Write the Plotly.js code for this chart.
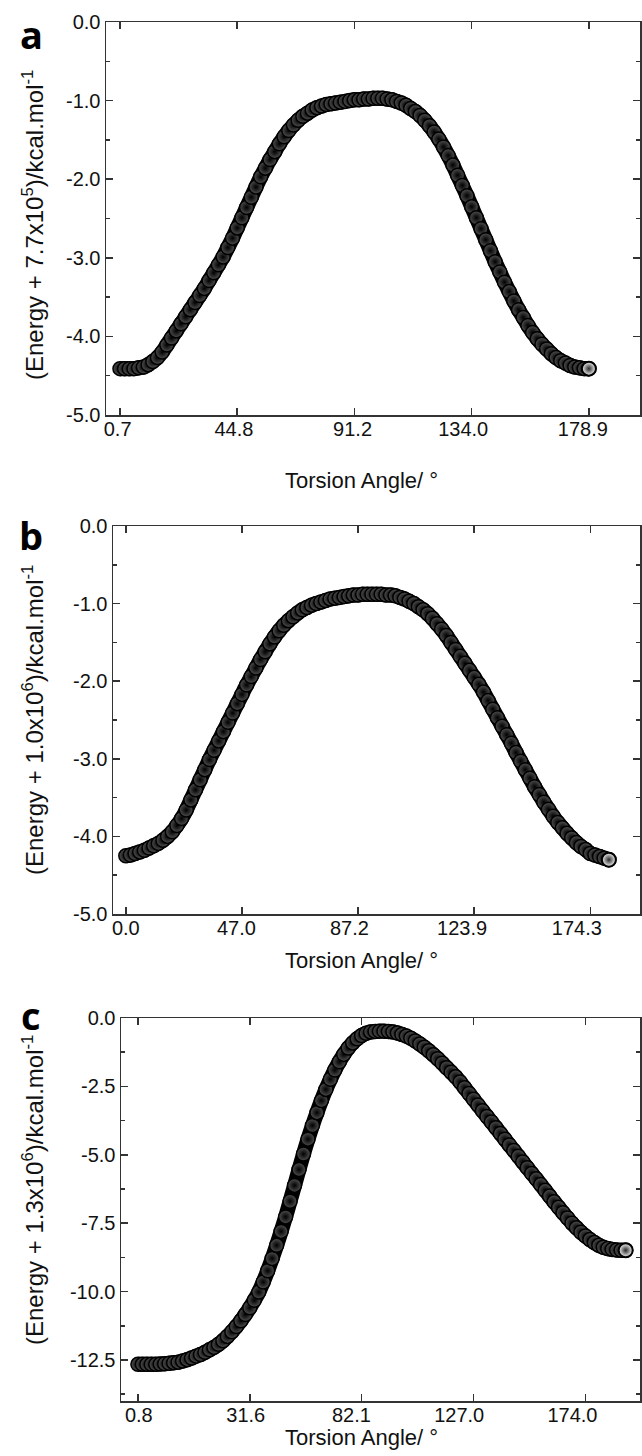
<!DOCTYPE html>
<html>
<head>
<meta charset="utf-8">
<script src="https://cdn.plot.ly/plotly-3.0.1.min.js"></script>
<style>
  html, body { margin: 0; padding: 0; background: #fff; }
  #chart { width: 642px; height: 1456px; }
</style>
</head>
<body>
<div id="chart"></div>
<script>
// ---- Data (energy along torsion scan steps; x = scan step index) ----
const energyA = [
  -4.41, -4.41, -4.41, -4.41, -4.40, -4.39, -4.36, -4.32, -4.27, -4.20,
  -4.11, -4.02, -3.93, -3.84, -3.75, -3.66, -3.57, -3.48, -3.39, -3.29,
  -3.19, -3.09, -2.99, -2.87, -2.75, -2.62, -2.49, -2.36, -2.23, -2.10,
  -1.97, -1.86, -1.75, -1.65, -1.55, -1.46, -1.38, -1.31, -1.25, -1.20,
  -1.16, -1.12, -1.09, -1.07, -1.05, -1.04, -1.03, -1.02, -1.01, -1.00,
  -0.99, -0.99, -0.98, -0.98, -0.97, -0.97, -0.97, -0.98, -0.99, -1.01,
  -1.03, -1.06, -1.10, -1.14, -1.19, -1.25, -1.32, -1.40, -1.49, -1.59,
  -1.70, -1.82, -1.95, -2.08, -2.21, -2.35, -2.49, -2.63, -2.77, -2.91,
  -3.05, -3.18, -3.31, -3.43, -3.55, -3.66, -3.76, -3.86, -3.95, -4.03,
  -4.10, -4.16, -4.22, -4.27, -4.31, -4.34, -4.37, -4.39, -4.40, -4.41,
  -4.41
];
const energyB = [
  -4.25, -4.24, -4.22, -4.20, -4.18, -4.15, -4.12, -4.09, -4.05, -4.00,
  -3.94, -3.86, -3.77, -3.66, -3.53, -3.40, -3.27, -3.14, -3.01, -2.89,
  -2.77, -2.65, -2.53, -2.41, -2.29, -2.17, -2.05, -1.94, -1.83, -1.72,
  -1.62, -1.52, -1.43, -1.35, -1.28, -1.22, -1.17, -1.12, -1.08, -1.05,
  -1.02, -1.00, -0.98, -0.96, -0.94, -0.93, -0.92, -0.91, -0.90, -0.89,
  -0.89, -0.88, -0.88, -0.88, -0.88, -0.88, -0.89, -0.89, -0.90, -0.92,
  -0.94, -0.97, -1.00, -1.04, -1.08, -1.13, -1.19, -1.26, -1.33, -1.41,
  -1.50, -1.59, -1.68, -1.77, -1.86, -1.95, -2.04, -2.14, -2.25, -2.36,
  -2.47, -2.58, -2.69, -2.80, -2.92, -3.03, -3.14, -3.25, -3.36, -3.46,
  -3.56, -3.65, -3.74, -3.82, -3.89, -3.96, -4.02, -4.08, -4.13, -4.17,
  -4.22, -4.24, -4.26, -4.28, -4.30
];
const energyC = [
  -12.66, -12.66, -12.66, -12.66, -12.66, -12.65, -12.64, -12.62, -12.60, -12.58,
  -12.54, -12.49, -12.43, -12.36, -12.30, -12.22, -12.13, -12.04, -11.93, -11.80,
  -11.64, -11.47, -11.28, -11.07, -10.84, -10.59, -10.32, -10.02, -9.65, -9.24,
  -8.79, -8.31, -7.80, -7.27, -6.70, -6.12, -5.54, -4.97, -4.43, -3.93,
  -3.46, -3.02, -2.61, -2.24, -1.90, -1.60, -1.33, -1.10, -0.91, -0.76,
  -0.64, -0.56, -0.51, -0.49, -0.48, -0.48, -0.49, -0.51, -0.55, -0.60,
  -0.66, -0.74, -0.84, -0.95, -1.07, -1.20, -1.34, -1.49, -1.65, -1.82,
  -1.98, -2.15, -2.34, -2.55, -2.76, -2.97, -3.18, -3.39, -3.60, -3.80,
  -4.01, -4.22, -4.43, -4.64, -4.84, -5.05, -5.26, -5.47, -5.68, -5.88,
  -6.09, -6.30, -6.51, -6.72, -6.92, -7.12, -7.31, -7.50, -7.67, -7.83,
  -7.97, -8.10, -8.21, -8.31, -8.38, -8.43, -8.46, -8.48, -8.49, -8.49
];

// Tick positions (scan step) and their torsion-angle labels
const tickStepsX = [0, 25, 50, 75, 100];
const tickLabelsA = ["0.7", "44.8", "91.2", "134.0", "178.9"];
const tickLabelsB = ["0.0", "47.0", "87.2", "123.9", "174.3"];
const tickLabelsC = ["0.8", "31.6", "82.1", "127.0", "174.0"];

const yTicksAB = [0, -1, -2, -3, -4, -5];
const yLabelsAB = ["0.0", "-1.0", "-2.0", "-3.0", "-4.0", "-5.0"];
const yTicksC = [0, -2.5, -5, -7.5, -10, -12.5];
const yLabelsC = ["0.0", "-2.5", "-5.0", "-7.5", "-10.0", "-12.5"];

const yTitleA = "(Energy + 7.7x10<sup>5</sup>)/kcal.mol<sup>-1</sup>";
const yTitleB = "(Energy + 1.0x10<sup>6</sup>)/kcal.mol<sup>-1</sup>";
const yTitleC = "(Energy + 1.3x10<sup>6</sup>)/kcal.mol<sup>-1</sup>";
const xTitle = "Torsion Angle/ °";
const panelLetters = ["a", "b", "c"];

// ---- Layout helpers ----
const W = 642, H = 1456;
const px = v => v / W;
const py = v => 1 - v / H;
const FONT = "Liberation Sans, Arial, sans-serif";
const AX = "#333333";
const TXT = "#111111";

// label offsets (in scan steps) – the reference prints labels slightly left of their ticks
const labelShiftA = [-0.5, -0.7, -0.4, -1.8, -1.3];
const labelShiftB = [0, -1.2, -1.85, -2.6, -2.9];
const labelShiftC = [0.2, -0.9, -2.3, -3.2, -2.9];

function bandTrace(y, xa, ya) {
  return { type: "scatter", mode: "lines+markers", y: y, x0: 0, dx: 1,
           xaxis: xa, yaxis: ya,
           line: { color: "#000", width: 15, shape: "spline", smoothing: 0.6 },
           marker: { symbol: "circle", size: 14, color: "#505050",
                     gradient: { type: "radial", color: "#000" },
                     line: { color: "#000", width: 1.5 } },
           hoverinfo: "skip", showlegend: false };
}
function endTrace(y, xa, ya) {
  const n = y.length - 1;
  return { type: "scatter", mode: "markers", y: [y[n]], x0: n, dx: 1,
           xaxis: xa, yaxis: ya,
           marker: { symbol: "circle", size: 14, color: "#f6f6f6",
                     gradient: { type: "radial", color: "#2a2a2a" },
                     line: { color: "#000", width: 2 } },
           hoverinfo: "skip", showlegend: false };
}
function xAxis(dom, range, anchor) {
  return {
    domain: dom, range: range, anchor: anchor,
    tickmode: "array", tickvals: tickStepsX, showticklabels: false,
    ticks: "inside", ticklen: 7, tickwidth: 1.5, tickcolor: AX,
    showline: true, linecolor: AX, linewidth: 1.5, mirror: "ticks",
    showgrid: false, zeroline: false
  };
}
function xLabelAxis(dom, range, anchor, overl, labels, shifts) {
  return {
    domain: dom, range: range, anchor: anchor, overlaying: overl, side: "bottom",
    tickmode: "array", tickvals: tickStepsX.map((v, i) => v + shifts[i]), ticktext: labels,
    ticks: "", showline: false, showgrid: false, zeroline: false,
    tickfont: { family: FONT, size: 20, color: TXT }
  };
}
function yAxis(dom, range, vals, labels, minorD, anchor) {
  return {
    domain: dom, range: range, anchor: anchor,
    tickmode: "array", tickvals: vals, ticktext: labels,
    ticks: "inside", ticklen: 7, tickwidth: 1.5, tickcolor: AX,
    minor: { ticks: "inside", ticklen: 4, tickwidth: 1.5, tickcolor: AX, dtick: minorD, tick0: 0, showgrid: false },
    showline: true, linecolor: AX, linewidth: 1.5, mirror: "ticks",
    showgrid: false, zeroline: false,
    tickfont: { family: FONT, size: 20, color: TXT }
  };
}

const data = [
  bandTrace(energyA, "x", "y"),  endTrace(energyA, "x", "y"),
  bandTrace(energyB, "x2", "y2"), endTrace(energyB, "x2", "y2"),
  bandTrace(energyC, "x3", "y3"), endTrace(energyC, "x3", "y3"),
  // invisible carriers so the label axes are drawn
  { type: "scatter", mode: "markers", x: [0], y: [0], xaxis: "x4", yaxis: "y", marker: { opacity: 0 }, hoverinfo: "skip", showlegend: false },
  { type: "scatter", mode: "markers", x: [0], y: [0], xaxis: "x5", yaxis: "y2", marker: { opacity: 0 }, hoverinfo: "skip", showlegend: false },
  { type: "scatter", mode: "markers", x: [0], y: [0], xaxis: "x6", yaxis: "y3", marker: { opacity: 0 }, hoverinfo: "skip", showlegend: false }
];

const domA = [px(106), px(640)], domB = [px(113), px(640)], domC = [px(121), px(640)];
const rngA = [-2.98, 110.9], rngB = [-2.76, 110.7], rngC = [-3.78, 112.2];

const layout = {
  width: W, height: H,
  margin: { l: 0, r: 0, t: 0, b: 0 },
  paper_bgcolor: "#fff", plot_bgcolor: "#fff",
  xaxis:  xAxis(domA, rngA, "y"),
  yaxis:  yAxis([py(415), py(22)], [-5, 0], yTicksAB, yLabelsAB, 0.5, "x"),
  xaxis2: xAxis(domB, rngB, "y2"),
  yaxis2: yAxis([py(914), py(526)], [-5, 0], yTicksAB, yLabelsAB, 0.5, "x2"),
  xaxis3: xAxis(domC, rngC, "y3"),
  yaxis3: yAxis([py(1401), py(1018)], [-14, 0], yTicksC, yLabelsC, 1.25, "x3"),
  xaxis4: xLabelAxis(domA, rngA, "y", "x", tickLabelsA, labelShiftA),
  xaxis5: xLabelAxis(domB, rngB, "y2", "x2", tickLabelsB, labelShiftB),
  xaxis6: xLabelAxis(domC, rngC, "y3", "x3", tickLabelsC, labelShiftC),
  annotations: []
};

const ann = layout.annotations;
const titleFont = { family: FONT, size: 24, color: TXT };
const xtFont = { family: FONT, size: 22, color: TXT };
const letterFont = { family: "Open Sans, Noto Sans, sans-serif", size: 38, color: "#000" };
const yTitles = [yTitleA, yTitleB, yTitleC];
const yCenters = [225, 720, 1190];
const xTitleY = [481, 960, 1437];
const letterY = [34, 535, 1015];
yTitles.forEach((t, i) => {
  ann.push({ text: t, textangle: -90, xref: "paper", yref: "paper",
             x: px(33), y: py(yCenters[i]), xanchor: "center", yanchor: "middle",
             showarrow: false, font: titleFont });
  ann.push({ text: xTitle, xref: "paper", yref: "paper",
             x: px(361), y: py(xTitleY[i]), xanchor: "center", yanchor: "middle",
             showarrow: false, font: xtFont });
  ann.push({ text: "<b>" + panelLetters[i] + "</b>", xref: "paper", yref: "paper",
             x: px(31), y: py(letterY[i]), xanchor: "center", yanchor: "middle",
             showarrow: false, font: letterFont });
});

Plotly.newPlot("chart", data, layout, { staticPlot: true, displayModeBar: false });
</script>
</body>
</html>
